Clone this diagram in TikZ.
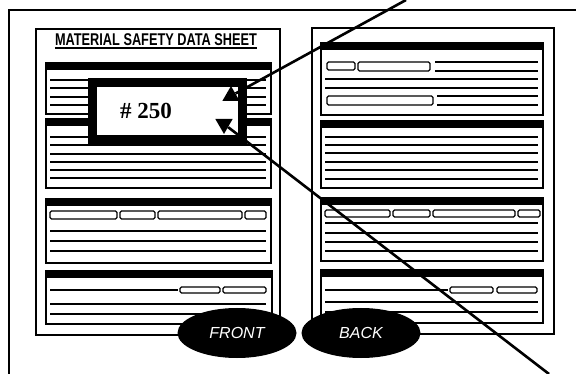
\documentclass[tikz,border=0pt]{standalone}
\usepackage{fontspec}
\setmainfont{Liberation Serif}
\setsansfont{Liberation Sans}
\usetikzlibrary{shapes.geometric}

\begin{document}
\begin{tikzpicture}[
        x=1pt, y=-1pt,
        every node/.style={inner sep=0pt},
        sheet/.style={
            draw,
            line width=2.4pt,
            anchor=north west
        },
        section/.style={
            draw,
            line width=1.6pt,
            anchor=north west
        },
        field/.style={
            draw,
            line width=1.4pt,
            rounded corners=1.5pt
        },
        rule/.style={line width=1.8pt},
        tag/.style={
            draw,
            fill=white,
            line width=9pt,
            minimum width=150pt,
            minimum height=57pt
        },
        tri/.style={
            regular polygon,
            regular polygon sides=3,
            fill=black,
            minimum size=20pt
        },
        side/.style={
            ellipse,
            fill=black,
            text=white,
            minimum width=119pt,
            minimum height=50pt,
            font=\sffamily\itshape\fontsize{16}{18}\selectfont
        },
        leader/.style={line width=2.6pt}
    ]

    \useasboundingbox (0,0) rectangle (576,374);

    % Frame
    \draw[line width=1.8pt] (9,374) -- (9,10) -- (576,10);

    % Front and back sheets
    \node[sheet, minimum width=244pt, minimum height=306pt] (frontsheet) at (35,28) {};
    \node[sheet, minimum width=242pt, minimum height=306pt] (backsheet) at (311,27) {};

    % Title
    \node[font=\sffamily\bfseries\fontsize{17}{18}\selectfont] (title) at (156,40)
    {\scalebox{0.75}[1]{MATERIAL SAFETY DATA SHEET}};
    \draw[line width=2pt] ([yshift=-1.5pt]title.south west) -- ([yshift=-1.5pt]title.south east);

    % Sections
    \foreach \n/\x/\y/\w/\h in {f1/45/62/225/51, f2/45/118/225/69, f3/45/198/225/64, f4/45/270/226/53,
                                b1/320/42/222/72, b2/320/120/222/67, b3/320/197/222/63, b4/320/269/222/53}
        \node[section, minimum width=\w pt, minimum height=\h pt] (\n) at (\x,\y) {};
    \foreach \n in {f1,f2,f3,f4,b1,b2,b3,b4}
        \fill (\n.north west) rectangle ([yshift=-8pt]\n.north east);

    % Front: lines
    \foreach \y in {80,88,97,105}
        \draw[rule] (50,\y) -- (266,\y);
    \foreach \y in {137,145,154,162,170,178}
        \draw[rule] (50,\y) -- (266,\y);
    \foreach \a/\b in {50/117,120/155,158/242,245/266}
        \draw[field] (\a,211) rectangle (\b,219);
    \foreach \y in {231,241,251}
        \draw[rule] (50,\y) -- (266,\y);
    \draw[rule] (50,290) -- (178,290);
    \foreach \a/\b in {180/220,223/266}
        \draw[field] (\a,287) rectangle (\b,293);
    \foreach \y in {304,314}
        \draw[rule] (50,\y) -- (266,\y);

    % Back: lines
    \draw[field] (327,62) rectangle (355,70);
    \draw[field] (358,62) rectangle (430,71);
    \draw[field] (327,96) rectangle (433,105);
    \foreach \y in {62,71}
        \draw[rule] (435,\y) -- (538,\y);
    \foreach \y in {79,88}
        \draw[rule] (325,\y) -- (538,\y);
    \foreach \y in {96,105}
        \draw[rule] (437,\y) -- (538,\y);
    \foreach \y in {137,145,153,162,170,179}
        \draw[rule] (325,\y) -- (538,\y);
    \foreach \a/\b in {325/390,393/430,433/515,518/540}
        \draw[field] (\a,210) rectangle (\b,217);
    \foreach \y in {223,233,242,251}
        \draw[rule] (325,\y) -- (538,\y);
    \draw[rule] (325,290) -- (448,290);
    \foreach \a/\b in {450/493,497/537}
        \draw[field] (\a,287) rectangle (\b,293);
    \foreach \y in {302,312}
        \draw[rule] (325,\y) -- (538,\y);

    % Number tag
    \node[tag] (tag) at (167.5,111) {};
    \node[font=\bfseries\fontsize{23}{26}\selectfont] (num) at (146,111) {\# 250};
    \node[tri] (up) at (231,96) {};
    \node[tri, shape border rotate=180] (down) at (224,124) {};

    % Leader lines
    \coordinate (tr) at (406,0);
    \coordinate (br) at (549,374);
    \draw[leader] (up) -- (tr);
    \draw[leader] (down) -- (br);

    % Side labels
    \node[side] (front) at (237,333) {FRONT};
    \node[side] (back) at (361,333) {BACK};

\end{tikzpicture}
\end{document}
